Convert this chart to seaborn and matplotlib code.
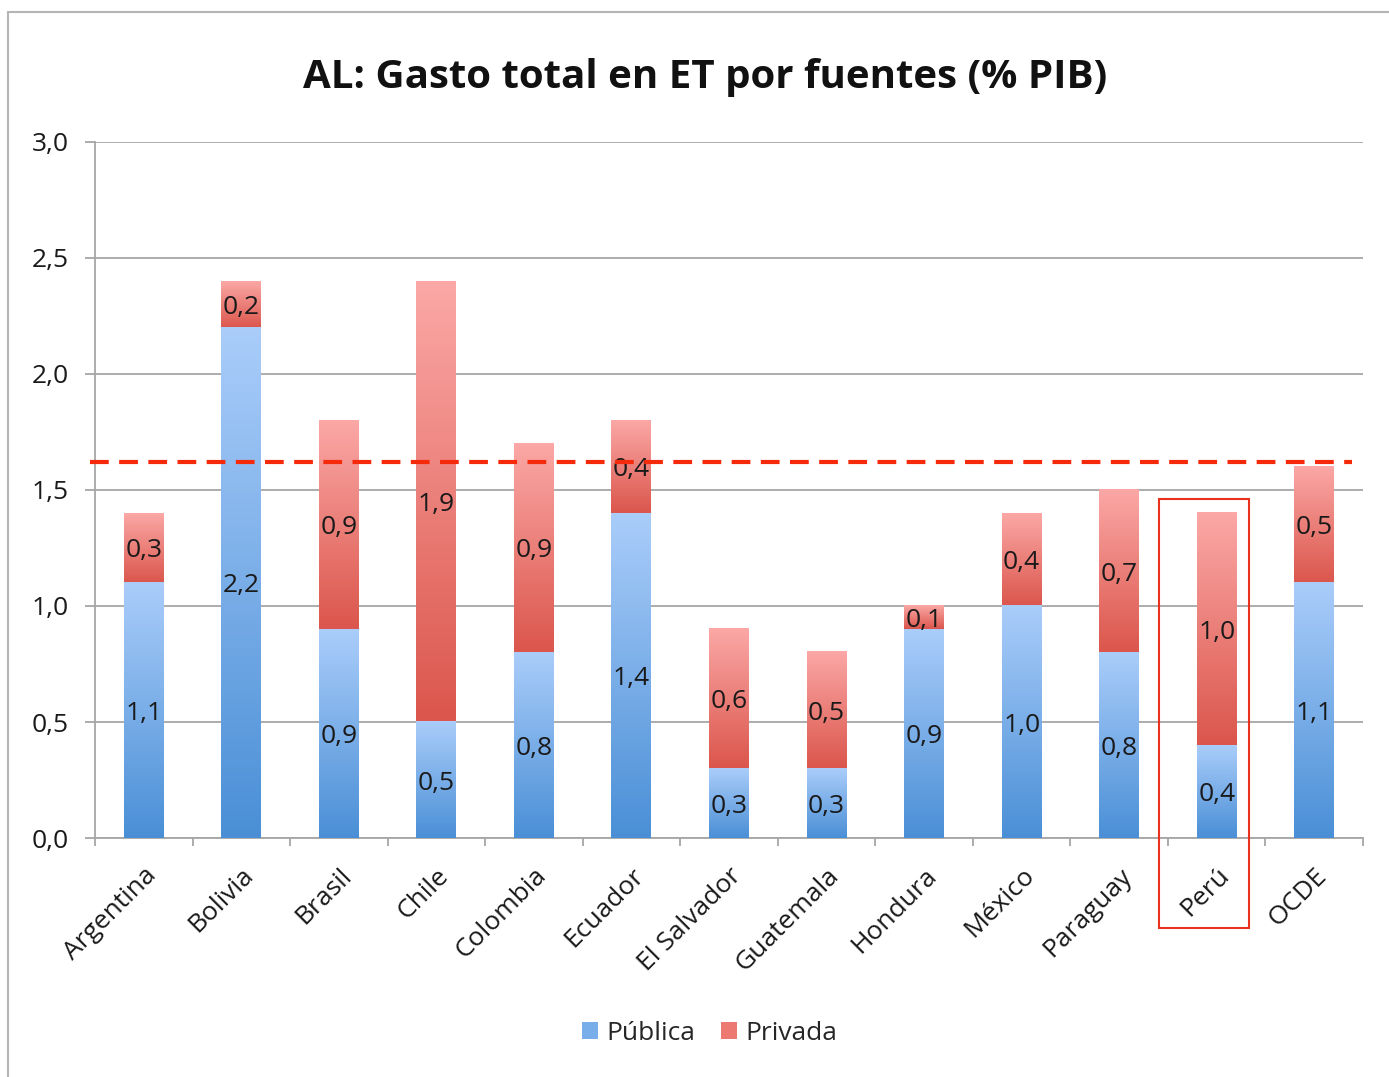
import numpy as np
import pandas as pd
import matplotlib
matplotlib.use("Agg")
import matplotlib.pyplot as plt
import seaborn as sns
from matplotlib.patches import Patch, Rectangle
from matplotlib.colors import LinearSegmentedColormap
from matplotlib.ticker import FuncFormatter, FixedLocator

# ---- data ----
paises = ["Argentina", "Bolivia", "Brasil", "Chile", "Colombia", "Ecuador",
          "El Salvador", "Guatemala", "Hondura", "México", "Paraguay", "Perú", "OCDE"]
publica = [1.1, 2.2, 0.9, 0.5, 0.8, 1.4, 0.3, 0.3, 0.9, 1.0, 0.8, 0.4, 1.1]
privada = [0.3, 0.2, 0.9, 1.9, 0.9, 0.4, 0.6, 0.5, 0.1, 0.4, 0.7, 1.0, 0.5]
referencia = 1.62
titulo = "AL: Gasto total en ET por fuentes (% PIB)"
serie_names = ["Pública", "Privada"]

df = pd.DataFrame({"pais": paises, "Pública": publica, "Privada": privada})
df["total"] = df["Pública"] + df["Privada"]

sns.set_theme(style="white")
plt.rcParams["font.family"] = ["Open Sans", "DejaVu Sans"]

FS = 19

fig = plt.figure(figsize=(13.89, 10.77), dpi=100)
ax = fig.add_axes([0.0684, 0.2219, 0.9129, 0.6463])

blue_top, blue_bot = "#aacdfa", "#4a8fd6"
red_top, red_bot = "#fba8a6", "#db564c"

sns.barplot(data=df, x="pais", y="total", color=red_bot, width=0.41,
            saturation=1, ax=ax, zorder=3)
sns.barplot(data=df, x="pais", y="Pública", color=blue_bot, width=0.41,
            saturation=1, ax=ax, zorder=3)

ax.set_ylim(0, 3.0)
ax.set_xlim(-0.5, len(paises) - 0.5)

# gradient fills over each bar segment
grad = np.linspace(1, 0, 256).reshape(-1, 1)
cmap_red = LinearSegmentedColormap.from_list("r", [red_bot, red_top])
cmap_blue = LinearSegmentedColormap.from_list("b", [blue_bot, blue_top])
n = len(paises)
red_patches = ax.patches[:n]
blue_patches = ax.patches[n:2 * n]
for i, p in enumerate(red_patches):
    x0 = p.get_x(); w = p.get_width()
    y0 = publica[i]; y1 = publica[i] + privada[i]
    ax.imshow(grad, extent=[x0, x0 + w, y0, y1], cmap=cmap_red,
              aspect="auto", zorder=3.5, vmin=0, vmax=1)
    p.set_facecolor("none"); p.set_edgecolor("none")
for i, p in enumerate(blue_patches):
    x0 = p.get_x(); w = p.get_width()
    ax.imshow(grad, extent=[x0, x0 + w, 0, publica[i]], cmap=cmap_blue,
              aspect="auto", zorder=3.6, vmin=0, vmax=1)
    p.set_facecolor("none"); p.set_edgecolor("none")
ax.set_xlim(-0.5, len(paises) - 0.5)
ax.set_ylim(0, 3.0)
ax.set_aspect("auto")

fmt = lambda v: f"{v:.1f}".replace(".", ",")
for i in range(n):
    ax.text(i, publica[i] / 2, fmt(publica[i]), ha="center", va="center_baseline",
            fontsize=FS, color="#1a1a1a", zorder=6)
    ax.text(i, publica[i] + privada[i] / 2, fmt(privada[i]), ha="center",
            va="center_baseline", fontsize=FS, color="#1a1a1a", zorder=6)

# reference line
ax.axhline(referencia, xmin=-0.004, xmax=0.991, color="#f52a0a", lw=3,
           dashes=(4.5, 2.5), zorder=7, clip_on=False)

# axes styling
grid_c = "#a6a6a6"
ax.set_yticks(np.arange(0, 3.01, 0.5))
ax.yaxis.set_major_formatter(FuncFormatter(lambda v, _: fmt(v)))
ax.grid(axis="y", color=grid_c, lw=1.3, zorder=0)
ax.grid(axis="x", visible=False)
for s in ["top", "right"]:
    ax.spines[s].set_visible(False)
for s in ["left", "bottom"]:
    ax.spines[s].set_color(grid_c)
    ax.spines[s].set_linewidth(1.3)
ax.tick_params(axis="y", length=7, color=grid_c, width=1.3, pad=12,
               labelsize=FS, labelcolor="#1a1a1a", left=True)
ax.set_xticks(range(n))
ax.set_xticklabels(paises, rotation=45, ha="right", rotation_mode="anchor",
                   fontsize=FS, color="#1a1a1a")
ax.tick_params(axis="x", which="major", length=0, pad=18)
ax.xaxis.set_minor_locator(FixedLocator(np.arange(-0.5, n, 1)))
ax.tick_params(axis="x", which="minor", length=6, color=grid_c, width=1.3,
               bottom=True)
ax.set_xlabel("")
ax.set_ylabel("")

fig.text(0.508, 0.928, titulo, ha="center", va="center", fontsize=29,
         fontweight="bold", color="#111111")

# legend
handles = [Patch(facecolor="#78aee9", edgecolor="none"),
           Patch(facecolor="#ec7a72", edgecolor="none")]
fig.legend(handles, serie_names, loc="center", bbox_to_anchor=(0.511, 0.0405),
           ncol=2, frameon=False, fontsize=FS, handlelength=0.6,
           handleheight=0.6, handletextpad=0.3, columnspacing=1.0)

# highlight box around Perú
fig.add_artist(Rectangle((0.8344, 0.1383), 0.0648, 0.3984, transform=fig.transFigure,
                         fill=False, edgecolor="#e8321e", lw=1.5, zorder=10))
# outer frame
fig.add_artist(Rectangle((8 / 1389, -0.01), 1.0, 1 - 12 / 1077 + 0.01,
                         transform=fig.transFigure, fill=False,
                         edgecolor="#b5b5b5", lw=1.5, zorder=0))

fig.savefig("out.png", dpi=100)
